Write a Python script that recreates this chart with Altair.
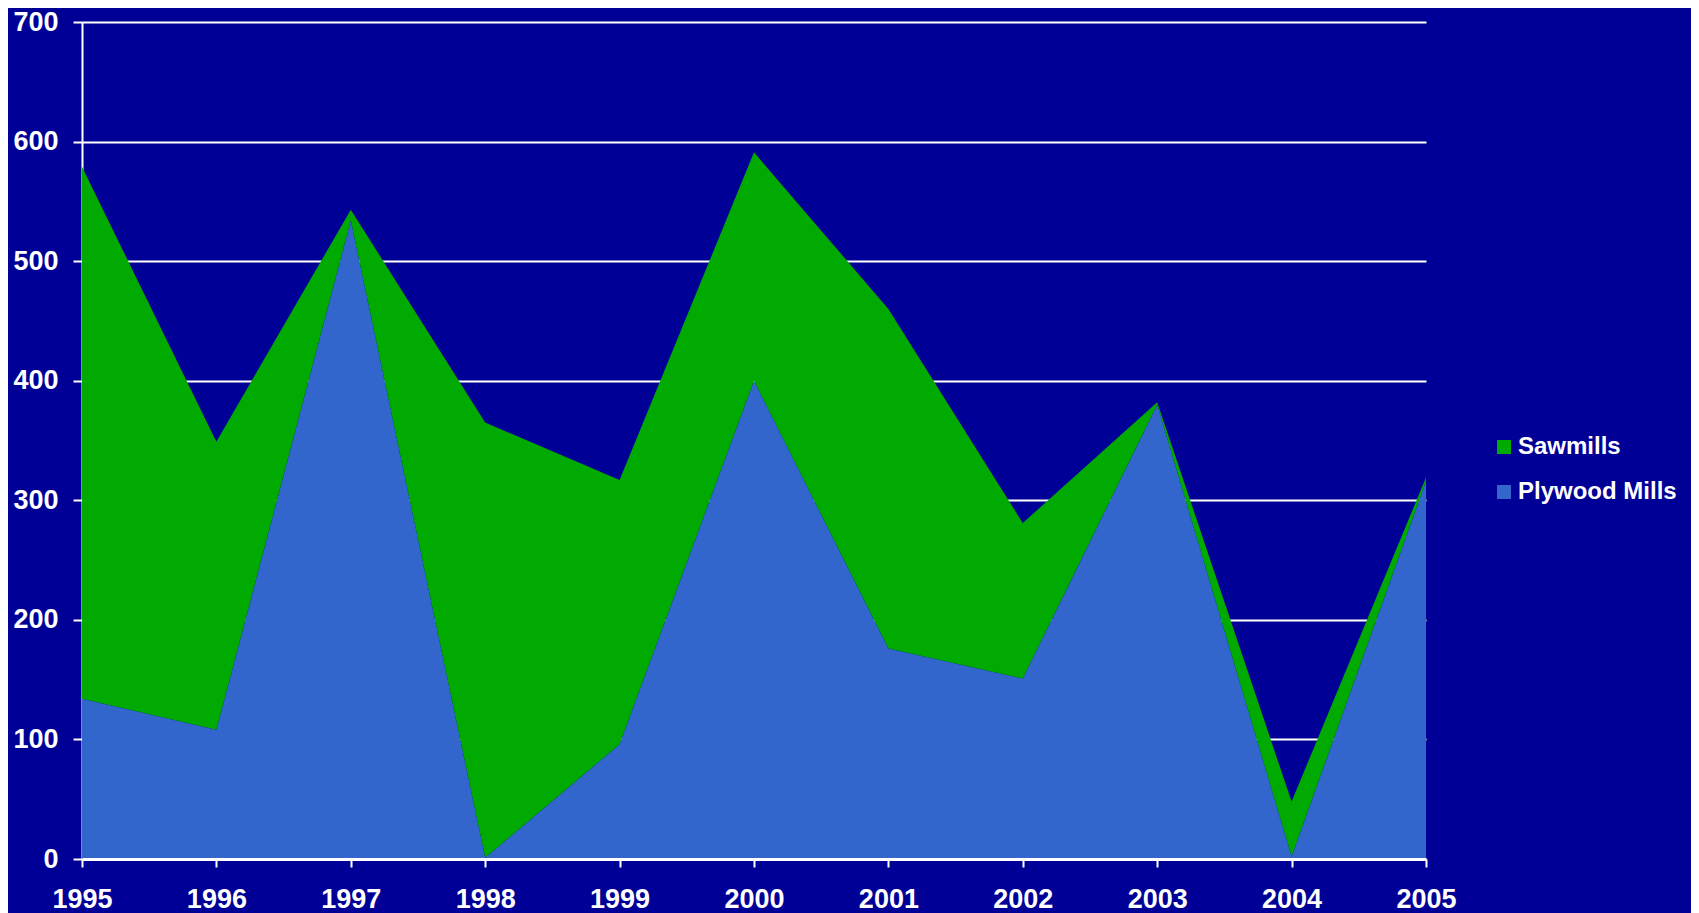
import altair as alt
import pandas as pd

years = list(range(1995, 2006))
series_names = ["Sawmills", "Plywood Mills"]
plywood = [134, 108, 534, 1, 96, 400, 176, 151, 380, 2, 316]
sawmills = [445, 241, 9, 364, 221, 191, 284, 130, 2, 46, 3]
y_ticks = [0, 100, 200, 300, 400, 500, 600, 700]

rows = []
for yr, v in zip(years, plywood):
    rows.append({"year": yr, "series": "Plywood Mills", "value": v, "stack": 0})
for yr, v in zip(years, sawmills):
    rows.append({"year": yr, "series": "Sawmills", "value": v, "stack": 1})
df = pd.DataFrame(rows)

BG = "#000096"
FONT = "Liberation Sans"

chart = alt.Chart(df).mark_area(opacity=1, interpolate="linear").encode(
    x=alt.X("year:Q",
            scale=alt.Scale(domain=[1995, 2005], nice=False, zero=False),
            axis=alt.Axis(values=years, format="d", title=None, grid=False,
                          tickSize=8, labelPadding=19, zindex=1,
                          domainWidth=3, tickWidth=2, labelFlush=False)),
    y=alt.Y("value:Q", stack="zero",
            scale=alt.Scale(domain=[0, 700], nice=False),
            axis=alt.Axis(values=y_ticks, title=None, grid=True,
                          tickSize=9, labelPadding=15, zindex=0,
                          domainWidth=2, tickWidth=2, labelFlush=False)),
    color=alt.Color("series:N",
                    scale=alt.Scale(domain=series_names, range=["#00AA00", "#3366CC"]),
                    legend=alt.Legend(title=None, orient="none", legendX=1410, legendY=413,
                                      symbolType="square", symbolSize=196,
                                      symbolStrokeWidth=0, symbolOpacity=1,
                                      labelColor="white", labelFont=FONT,
                                      labelFontWeight="bold", labelFontSize=24,
                                      labelOffset=2, rowPadding=21, padding=0,
                                      labelExpr="datum.label == 'Plywood Mills' ? '\u00a0Plywood Mills' : datum.label")),
    order=alt.Order("stack:Q", sort="ascending"),
).properties(
    width=1344,
    height=837,
    autosize=alt.AutoSizeParams(type="none"),
    padding={"left": 74, "top": 14, "right": 265, "bottom": 56},
    background=BG,
).configure_view(
    stroke=None, fill=BG
).configure_axis(
    domainColor="white", tickColor="white", gridColor="white",
    gridWidth=2, gridOpacity=1,
    labelColor="white", labelFont=FONT, labelFontWeight="bold", labelFontSize=27,
)

chart.save("out.html", embed_options={"renderer": "svg", "actions": False})
